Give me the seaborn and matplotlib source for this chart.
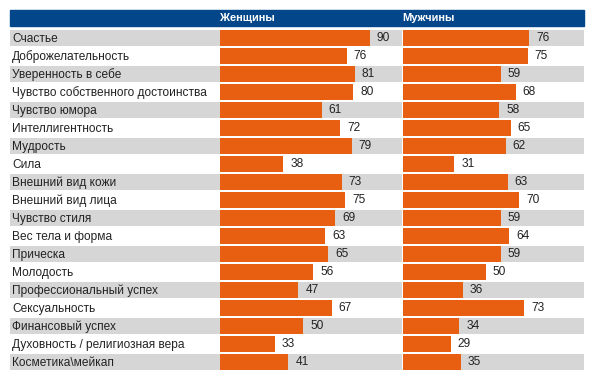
import matplotlib
matplotlib.use("Agg")
import matplotlib.pyplot as plt
import seaborn as sns
import pandas as pd
from matplotlib.patches import Rectangle

sns.set_theme(style="white")
plt.rcParams['font.family'] = ['Liberation Sans', 'DejaVu Sans']

categories = [
    "Счастье", "Доброжелательность", "Уверенность в себе",
    "Чувство собственного достоинства", "Чувство юмора", "Интеллигентность",
    "Мудрость", "Сила", "Внешний вид кожи", "Внешний вид лица",
    "Чувство стиля", "Вес тела и форма", "Прическа", "Молодость",
    "Профессиональный успех", "Сексуальность", "Финансовый успех",
    "Духовность / религиозная вера", "Косметика\\мейкап",
]
women = [90, 76, 81, 80, 61, 72, 79, 38, 73, 75, 69, 63, 65, 56, 47, 67, 50, 33, 41]
men = [76, 75, 59, 68, 58, 65, 62, 31, 63, 70, 59, 64, 59, 50, 36, 73, 34, 29, 35]
headers = ["Женщины", "Мужчины"]

ORANGE = "#E95F11"
GRAY = "#D6D6D6"
BLUE = "#03468A"
W, H = 594, 384
FS = 8.6
HFS = 7.9

fig = plt.figure(figsize=(W / 100, H / 100), dpi=100)
fig.patch.set_facecolor("white")


def fax(x0, x1, y0, y1):
    return fig.add_axes([x0 / W, 1 - y1 / H, (x1 - x0) / W, (y1 - y0) / H])


# header bar
fig.patches.append(Rectangle((10 / W, 1 - 26 / H), 574 / W, 16.5 / H,
                             transform=fig.transFigure, color=BLUE, zorder=0))
fig.text(220 / W, 1 - 18 / H, headers[0], color="white", fontsize=HFS,
         fontweight="bold", va="center", ha="left")
fig.text(402 / W, 1 - 18 / H, headers[1], color="white", fontsize=HFS,
         fontweight="bold", va="center", ha="left")

n = len(categories)
half = 0.445
ytop, ybot = 29, 29 + 18 * n

# label column
lax = fax(10, 220, ytop, ybot)
lax.set_xlim(0, 210)
lax.set_ylim(n - 0.5, -0.5)
for i, c in enumerate(categories):
    if i % 2 == 0:
        lax.axhspan(i - half, i + half, color=GRAY, lw=0)
    lax.text(2, i + 0.03, c, fontsize=FS, color="#222222", va="center", ha="left")
lax.axis("off")

df = pd.DataFrame({"cat": categories, "Женщины": women, "Мужчины": men})
xmax = 181.5 / (150 / 90)

for (x0, x1), col in [((220, 401.5), "Женщины"), ((402.5, 584), "Мужчины")]:
    ax = fax(x0, x1, ytop, ybot)
    for i in range(n):
        if i % 2 == 0:
            ax.axhspan(i - half, i + half, color=GRAY, lw=0, zorder=0)
    sns.barplot(data=df, x=col, y="cat", orient="h", color=ORANGE,
                width=2 * half, saturation=1, ax=ax, zorder=2,
                linewidth=0, edgecolor="none")
    for cont in ax.containers:
        ax.bar_label(cont, padding=5, fontsize=FS, color="#222222")
    ax.set_xlim(0, xmax)
    ax.set_ylim(n - 0.5, -0.5)
    ax.axis("off")

fig.savefig("out.png", dpi=100)
